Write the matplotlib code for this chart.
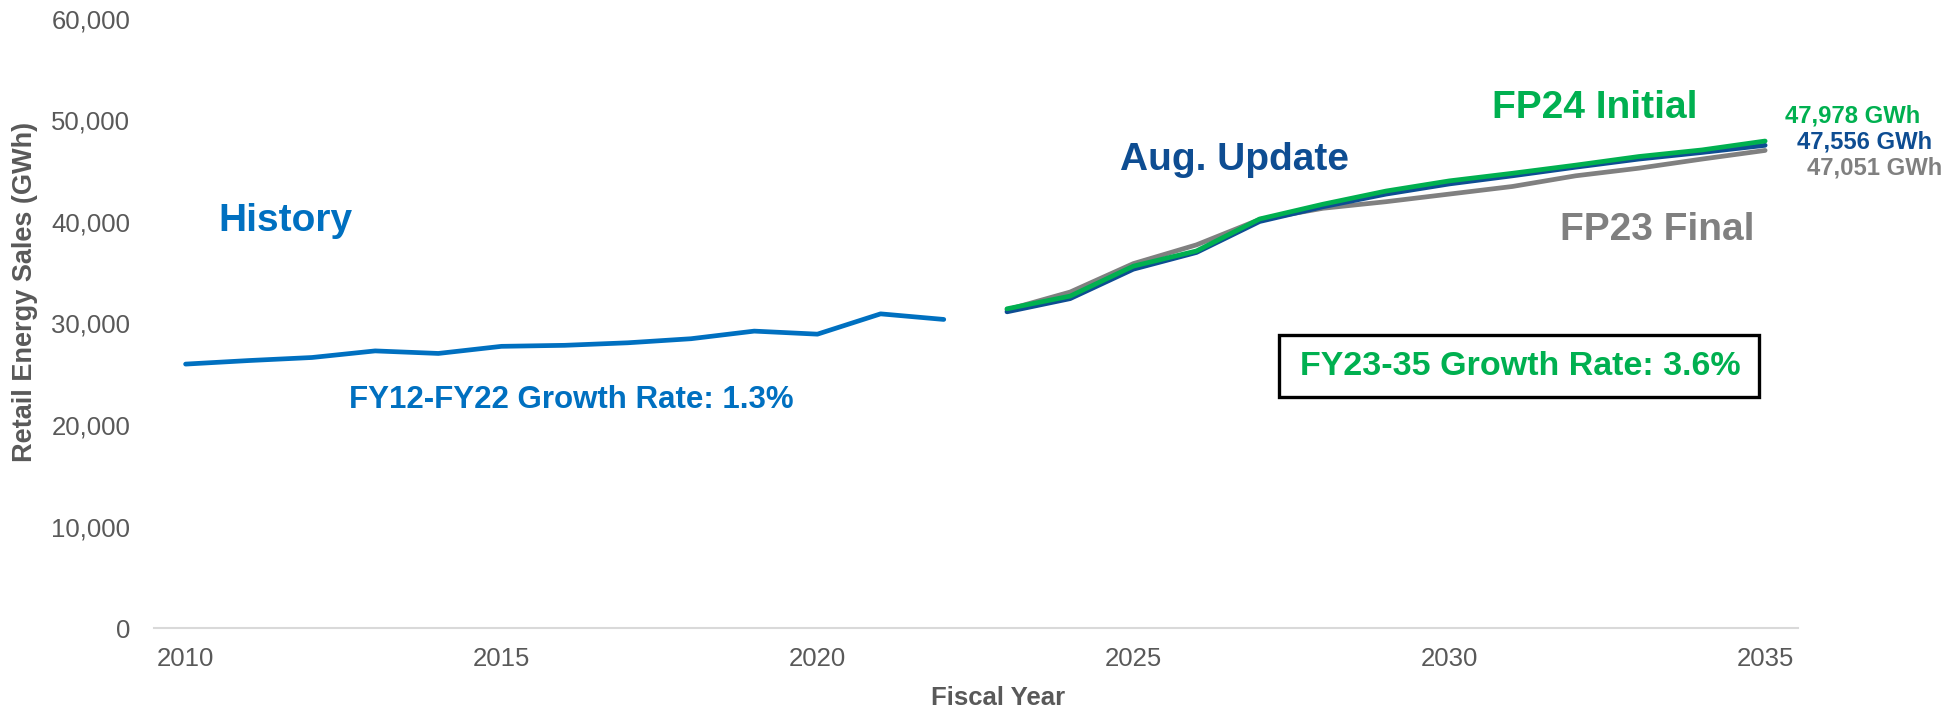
import numpy as np
import matplotlib
matplotlib.use('Agg')
import matplotlib.pyplot as plt
from matplotlib.patches import Rectangle
from matplotlib.ticker import FuncFormatter

plt.rcParams['font.family'] = ['Liberation Sans', 'DejaVu Sans']

# history (GWh)
years_hist = list(range(2010, 2023))
history = [26000, 26350, 26650, 27300, 27050, 27750, 27850, 28100, 28500, 29250, 28950, 30950, 30400]

# forecasts (GWh)
years_fc = list(range(2023, 2036))
fp23_final = [31350, 33100, 35900, 37750, 40250, 41350, 42000, 42750, 43500, 44550, 45300, 46200, 47051]
aug_update = [31150, 32450, 35350, 37000, 40050, 41500, 42750, 43750, 44550, 45400, 46200, 46850, 47556]
fp24_initial = [31450, 32700, 35650, 37150, 40300, 41750, 43050, 44050, 44800, 45600, 46450, 47100, 47978]

x_ticks = [2010, 2015, 2020, 2025, 2030, 2035]
y_ticks = [0, 10000, 20000, 30000, 40000, 50000, 60000]

c_hist = '#0070C0'
c_aug = '#0E4D92'
c_fp24 = '#00B050'
c_fp23 = '#808080'
c_text = '#595959'

fig = plt.figure(figsize=(19.59, 7.11), dpi=100)
ax = fig.add_axes([154 / 1959, 1 - 628 / 711, (1798 - 154) / 1959, (628 - 19) / 711])

lw = 3.4
ax.plot(years_hist, history, color=c_hist, lw=lw, solid_capstyle='round')
ax.plot(years_fc, fp23_final, color=c_fp23, lw=lw, solid_capstyle='round')
ax.plot(years_fc, aug_update, color=c_aug, lw=lw, solid_capstyle='round')
ax.plot(years_fc, fp24_initial, color=c_fp24, lw=lw, solid_capstyle='round')

ax.set_xlim(2009.5, 2035.52)
ax.set_ylim(0, 60000)
ax.set_xticks(x_ticks)
ax.set_yticks(y_ticks)
ax.yaxis.set_major_formatter(FuncFormatter(lambda v, p: f'{v:,.0f}'))
ax.tick_params(length=0, labelsize=18.5, labelcolor=c_text)
ax.tick_params(axis='y', pad=17)
ax.tick_params(axis='x', pad=14)
for s in ['top', 'right', 'left']:
    ax.spines[s].set_visible(False)
ax.spines['bottom'].set_color('#D9D9D9')
ax.spines['bottom'].set_linewidth(1.5)

fig.text(25 / 1959, 1 - 292 / 711, 'Retail Energy Sales (GWh)', rotation=90,
         ha='center', va='center', fontsize=19.5, fontweight='bold', color=c_text)
fig.text(998 / 1959, 1 - 698 / 711, 'Fiscal Year', ha='center', va='center',
         fontsize=18.5, fontweight='bold', color=c_text)

# series labels
ax.text(2011.58, 40100, 'History', ha='center', va='center', fontsize=28,
        fontweight='bold', color=c_hist)
ax.text(2016.1, 22500, 'FY12-FY22 Growth Rate: 1.3%', ha='center', va='center',
        fontsize=22.5, fontweight='bold', color=c_hist)
ax.text(2026.6, 46100, 'Aug. Update', ha='center', va='center', fontsize=28,
        fontweight='bold', color=c_aug)
ax.text(2032.3, 51200, 'FP24 Initial', ha='center', va='center', fontsize=28,
        fontweight='bold', color=c_fp24)
ax.text(2033.3, 39200, 'FP23 Final', ha='center', va='center', fontsize=28,
        fontweight='bold', color=c_fp23)

# end values
ax.text(2035.32, 50400, f'{fp24_initial[-1]:,} GWh', ha='left', va='center',
        fontsize=17.2, fontweight='bold', color=c_fp24, clip_on=False)
ax.text(2035.51, 47900, f'{aug_update[-1]:,} GWh', ha='left', va='center',
        fontsize=17.2, fontweight='bold', color=c_aug, clip_on=False)
ax.text(2035.66, 45350, f'{fp23_final[-1]:,} GWh', ha='left', va='center',
        fontsize=17.2, fontweight='bold', color=c_fp23, clip_on=False)

# growth rate box
ax.add_patch(Rectangle((2027.31, 22750), 2034.9 - 2027.31, 28850 - 22750,
                       fill=False, edgecolor='black', lw=2.4))
ax.text(2031.12, 25750, 'FY23-35 Growth Rate: 3.6%', ha='center', va='center',
        fontsize=24.5, fontweight='bold', color=c_fp24)

fig.savefig('out.png', dpi=100)
